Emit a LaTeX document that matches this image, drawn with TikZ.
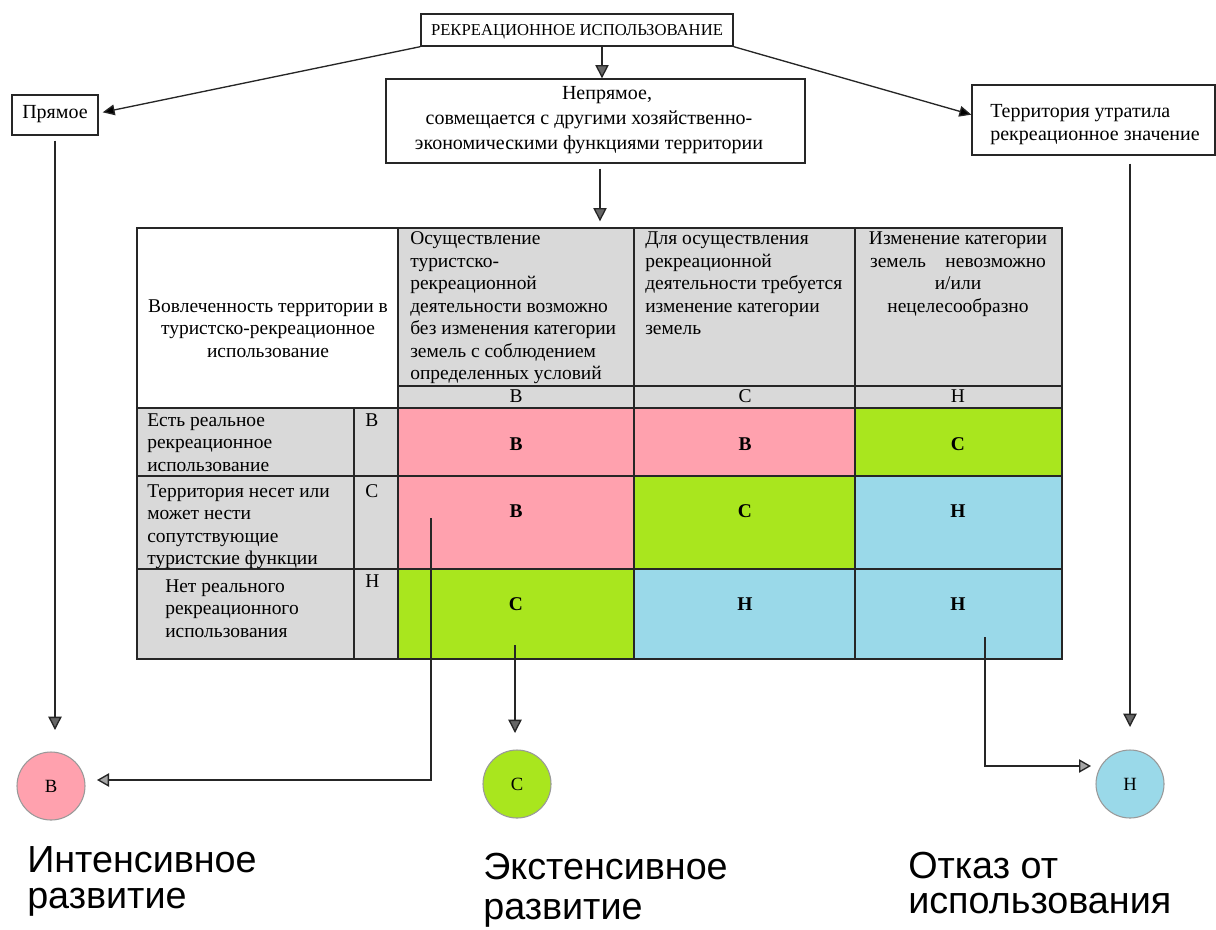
\documentclass[tikz,border=0pt]{standalone}
\usepackage{fontspec}
\setmainfont{Liberation Serif}
\newfontfamily\labfont{Liberation Sans}
\usetikzlibrary{arrows.meta,fit}
\definecolor{pinkc}{HTML}{FFA1AE}
\definecolor{greenc}{HTML}{A9E61E}
\definecolor{bluec}{HTML}{9AD9E9}
\definecolor{greyc}{HTML}{D9D9D9}
\tikzset{
 box/.style={draw=black!85, line width=1pt, inner sep=0pt},
 txt/.style={inner sep=0pt, anchor=base west},
 ctxt/.style={inner sep=0pt, anchor=base},
 conn/.style={draw=black!85, line width=1pt},
 garrow/.style={conn, -{Triangle[length=10pt,width=10pt,fill=black!60]}},
 harrow/.style={conn, -{Triangle[length=9pt,width=10pt,fill=black!35]}},
 barrow/.style={conn, -{Triangle[length=9pt,width=8pt,fill=black]}},
 grid/.style={draw=black!85, line width=1pt},
 circ/.style={circle, draw=black!40, line width=0.8pt, minimum size=51pt, inner sep=0pt, font=\fontsize{14}{16}\selectfont},
}
\newcommand\tf{\fontsize{14.6}{16.9}\selectfont}
\newcommand\lp[2]{\parbox[t]{#1pt}{\raggedright #2}}
\newcommand\cp[2]{\parbox[t]{#1pt}{\centering #2}}
\begin{document}
\begin{tikzpicture}[x=0.75pt,y=-0.75pt]
\useasboundingbox (0,0) rectangle (1216,929);
% boxes
\node[box, fit={(421,14) (733,46)}] (top) {};
\node[ctxt, font=\fontsize{12.5}{15}\selectfont] (toptxt) at (577,35) {РЕКРЕАЦИОННОЕ ИСПОЛЬЗОВАНИЕ};
\node[box, fit={(386,79) (805,163)}] (nep) {};
\node[ctxt] (neptxt) at (589,99) {\fontsize{15}{18.75}\selectfont\cp{330}{\hspace*{27pt}Непрямое,\\совмещается с другими хозяйственно-\\экономическими функциями территории}};
\node[box, fit={(12,95) (98,135)}] (pryam) {};
\node[ctxt, font=\fontsize{15}{18}\selectfont] (pryamtxt) at (55,118) {Прямое};
\node[box, fit={(972,85) (1215,155)}] (rbox) {};
\node[txt] (rboxtxt) at (990,117) {\fontsize{15}{17.25}\selectfont\lp{200}{Территория утратила\\рекреационное значение}};
% table fills
\fill[greyc] (398,228) rectangle (1062,408);
\fill[greyc] (137,408) rectangle (398,659);
\fill[pinkc] (398,408) rectangle (634,569);
\fill[pinkc] (634,408) rectangle (855,476);
\fill[greenc] (855,408) rectangle (1062,476);
\fill[greenc] (634,476) rectangle (855,569);
\fill[bluec] (855,476) rectangle (1062,659);
\fill[greenc] (398,569) rectangle (634,659);
\fill[bluec] (634,569) rectangle (855,659);
% grid
\draw[grid] (137,228) rectangle (1062,659);
\draw[grid] (398,386) -- (1062,386);
\draw[grid] (137,408) -- (1062,408);
\draw[grid] (137,476) -- (1062,476);
\draw[grid] (137,569) -- (1062,569);
\draw[grid] (398,228) -- (398,659);
\draw[grid] (634,228) -- (634,659);
\draw[grid] (855,228) -- (855,659);
\draw[grid] (354,408) -- (354,659);
% header texts
\node[ctxt] (h1) at (268,312) {\tf\cp{200}{Вовлеченность территории в\\туристско-рекреационное\\использование}};
\node[txt] (h2) at (410,244.5) {\tf\lp{230}{Осуществление\\туристско-\\рекреационной\\деятельности возможно\\без изменения категории\\земель с соблюдением\\определенных условий}};
\node[txt] (h3) at (645,244.5) {\tf\lp{215}{Для осуществления\\рекреационной\\деятельности требуется\\изменение категории\\земель}};
\node[ctxt] (h4) at (958,244.5) {\tf\cp{200}{Изменение категории\\земель\quad невозможно\\и/или\\нецелесообразно}};
\node[ctxt, font=\tf] (l2) at (516,402) {В};
\node[ctxt, font=\tf] (l3) at (745,402) {С};
\node[ctxt, font=\tf] (l4) at (958,402) {Н};
% row labels
\node[txt] (r1) at (147,426) {\tf\lp{200}{Есть реальное\\рекреационное\\использование}};
\node[txt] (r2) at (147,497) {\tf\lp{200}{Территория несет или\\может нести\\сопутствующие\\туристские функции}};
\node[txt] (r3) at (165,592) {\tf\lp{200}{Нет реального\\рекреационного\\использования}};
\node[txt, font=\tf] (k1) at (365,426) {В};
\node[txt, font=\tf] (k2) at (365,497) {С};
\node[txt, font=\tf] (k3) at (365,587) {Н};
% data letters
\node[ctxt, font=\tf\bfseries] (d11) at (516,450) {В};
\node[ctxt, font=\tf\bfseries] (d12) at (745,450) {В};
\node[ctxt, font=\tf\bfseries] (d13) at (958,450) {С};
\node[ctxt, font=\tf\bfseries] (d21) at (516,517) {В};
\node[ctxt, font=\tf\bfseries] (d22) at (745,517) {С};
\node[ctxt, font=\tf\bfseries] (d23) at (958,517) {Н};
\node[ctxt, font=\tf\bfseries] (d31) at (516,610) {С};
\node[ctxt, font=\tf\bfseries] (d32) at (745,610) {Н};
\node[ctxt, font=\tf\bfseries] (d33) at (958,610) {Н};
% circles
\node[circ, fill=pinkc] (cB) at (51,786) {В};
\node[circ, fill=greenc] (cC) at (517,784) {С};
\node[circ, fill=bluec] (cH) at (1130,784) {Н};
% bottom labels
\node[txt] (labB) at (27,872) {\labfont\fontsize{28.3}{27}\selectfont\lp{300}{Интенсивное\\развитие}};
\node[txt] (labC) at (483,879) {\labfont\fontsize{28.3}{30}\selectfont\lp{300}{Экстенсивное\\развитие}};
\node[txt] (labH) at (908,878) {\labfont\fontsize{28.3}{26.5}\selectfont\lp{300}{Отказ от\\использования}};
% coordinates
\coordinate (tabtop) at (600,228);
\coordinate (bdown) at (55,730);
\coordinate (rdown) at (1130,727);
\coordinate (c1) at (431,518);
\coordinate (bin) at (97,780);
\coordinate (c2) at (515,645);
\coordinate (cdown) at (515,733);
\coordinate (c3) at (985,637);
\coordinate (hin) at (1091,766);
% connectors
\draw[barrow] (top.south west) -- ([xshift=3pt,yshift=2pt]pryam.east);
\draw[barrow] (top.south east) -- ([yshift=4pt]rbox.west);
\draw[garrow] ([xshift=18.75pt]top.south) -- ([xshift=18.75pt]top.south |- nep.north);
\draw[garrow, shorten <=3.75pt, shorten >=5pt] (nep.south -| tabtop) -- (tabtop);
\draw[garrow, shorten <=3.75pt] (pryam.south) -- (bdown);
\draw[garrow, shorten <=6pt] (rbox.south -| rdown) -- (rdown);
\draw[harrow] (c1) |- (bin);
\draw[garrow] (c2) -- (cdown);
\draw[harrow] (c3) |- (hin);
\end{tikzpicture}
\end{document}
